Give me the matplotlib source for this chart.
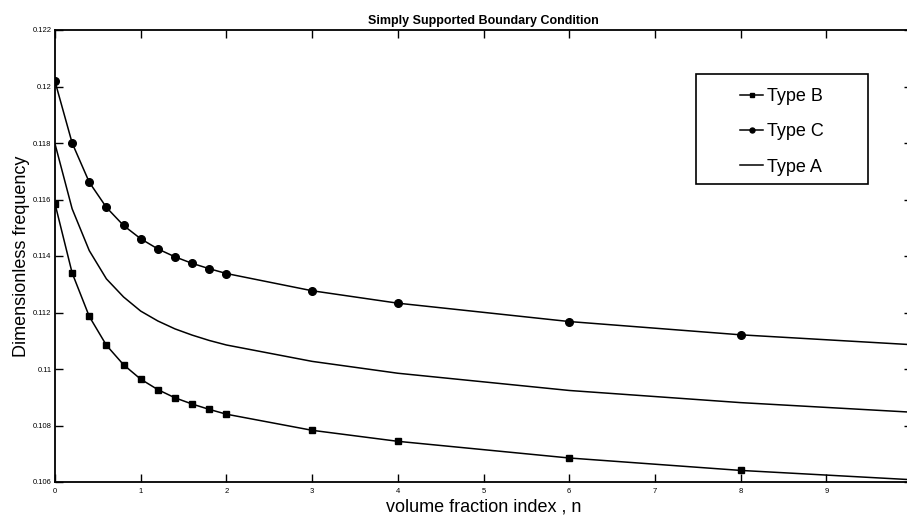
import matplotlib
matplotlib.use("Agg")
import matplotlib.pyplot as plt
from matplotlib.patches import Rectangle

plt.rcParams["font.family"] = ["Liberation Sans", "DejaVu Sans"]

# volume fraction index
n_vals = [0, 0.2, 0.4, 0.6, 0.8, 1.0, 1.2, 1.4, 1.6, 1.8, 2.0, 3, 4, 6, 8, 10]

# dimensionless frequency per type
typeB = [0.11585, 0.11340, 0.11186, 0.11084, 0.11015, 0.10964, 0.10927, 0.10898,
         0.10876, 0.10857, 0.10840, 0.10783, 0.10744, 0.10685, 0.10641, 0.10608]
typeC = [0.12018, 0.11800, 0.11661, 0.11572, 0.11508, 0.11461, 0.11425, 0.11397,
         0.11374, 0.11355, 0.11338, 0.11277, 0.11233, 0.11168, 0.11121, 0.11086]
typeA = [0.11797, 0.11567, 0.11419, 0.11319, 0.11255, 0.11205, 0.11170, 0.11142,
         0.11120, 0.11101, 0.11085, 0.11027, 0.10985, 0.10924, 0.10881, 0.10847]

yticks = [0.106, 0.108, 0.110, 0.112, 0.114, 0.116, 0.118, 0.120, 0.122]
xticks = list(range(0, 10))

fig = plt.figure(figsize=(9.07, 5.17), dpi=100)
ax = fig.add_axes([55 / 907, 35 / 517, 857 / 907, 452 / 517])

ax.plot(n_vals, typeB, color="black", lw=1.1, marker="s", ms=4, label="Type B")
ax.plot(n_vals, typeC, color="black", lw=1.1, marker="o", ms=5.5, label="Type C")
ax.plot(n_vals, typeA, color="black", lw=1.1, label="Type A")

ax.set_xlim(0, 10)
ax.set_ylim(0.106, 0.122)
ax.set_xticks(xticks)
ax.set_xticklabels([str(t) for t in xticks])
ax.set_yticks(yticks)
ax.set_yticklabels(["%g" % t for t in yticks])
ax.tick_params(direction="in", length=6, width=1.0, labelsize=5.5,
               top=True, right=True, pad=2.5)
ax.tick_params(axis="x", pad=4.5)

for sp in ax.spines.values():
    sp.set_linewidth(1.3)

ax.set_title("Simply Supported Boundary Condition", fontsize=9, fontweight="bold", pad=4)
ax.set_xlabel("volume fraction index , n", fontsize=13, labelpad=2)
ax.set_ylabel("Dimensionless frequency", fontsize=13, labelpad=1.5)

# legend box drawn separately, entries centred inside it
box = Rectangle((0.7476, 0.66), 0.2015, 0.2427, transform=ax.transAxes,
                fill=False, edgecolor="black", lw=1.2, zorder=5)
ax.add_patch(box)
ax.legend(loc="center", bbox_to_anchor=(0.848, 0.7744), frameon=False,
          fontsize=13, handlelength=1.3, handletextpad=0.2, labelspacing=1.0,
          markerscale=0.65)

fig.savefig("out.png", dpi=100)
